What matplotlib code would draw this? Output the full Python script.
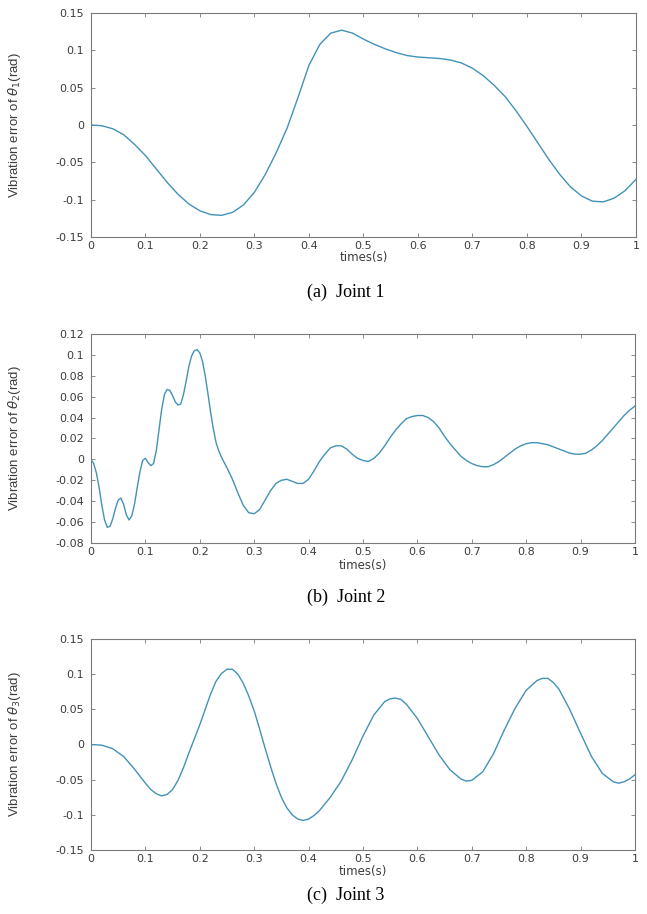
"""Vibration error of the three joints over one second."""
import matplotlib
matplotlib.use("Agg")
import matplotlib.pyplot as plt
import numpy as np
from matplotlib.ticker import FuncFormatter

# joint 1
t1 = [0.00, 0.02, 0.04, 0.06, 0.08, 0.10, 0.12, 0.14, 0.16, 0.18, 0.20, 0.22,
      0.24, 0.26, 0.28, 0.30, 0.32, 0.34, 0.36, 0.38, 0.40, 0.42, 0.44, 0.46,
      0.48, 0.50, 0.52, 0.54, 0.56, 0.58, 0.60, 0.62, 0.64, 0.66, 0.68, 0.70,
      0.72, 0.74, 0.76, 0.78, 0.80, 0.82, 0.84, 0.86, 0.88, 0.90, 0.92, 0.94,
      0.96, 0.98, 1.00]
err1 = [0.000, -0.001, -0.005, -0.013, -0.026, -0.041, -0.059, -0.077, -0.093,
        -0.106, -0.115, -0.120, -0.121, -0.117, -0.107, -0.090, -0.066, -0.037,
        -0.004, 0.037, 0.080, 0.108, 0.123, 0.127, 0.123, 0.115, 0.108, 0.102,
        0.097, 0.093, 0.091, 0.090, 0.089, 0.087, 0.083, 0.076, 0.066, 0.053,
        0.038, 0.019, -0.002, -0.024, -0.046, -0.066, -0.083, -0.095, -0.102,
        -0.103, -0.098, -0.088, -0.073]

# joint 2
t2 = [0.000, 0.005, 0.010, 0.015, 0.020, 0.025, 0.030, 0.035, 0.040, 0.045,
      0.050, 0.055, 0.060, 0.065, 0.070, 0.075, 0.080, 0.085, 0.090, 0.095,
      0.100, 0.105, 0.110, 0.115, 0.120, 0.125, 0.130, 0.135, 0.140, 0.145,
      0.150, 0.155, 0.160, 0.165, 0.170, 0.175, 0.180, 0.185, 0.190, 0.195,
      0.200, 0.205, 0.210, 0.215, 0.220, 0.225, 0.230, 0.235, 0.240, 0.245,
      0.250, 0.260, 0.270, 0.280, 0.290, 0.300, 0.310, 0.320, 0.330, 0.340,
      0.350, 0.360, 0.370, 0.380, 0.390, 0.400, 0.410, 0.420, 0.430, 0.440,
      0.450, 0.460, 0.470, 0.480, 0.490, 0.500, 0.510, 0.520, 0.530, 0.540,
      0.550, 0.560, 0.570, 0.580, 0.590, 0.600, 0.610, 0.620, 0.630, 0.640,
      0.650, 0.660, 0.670, 0.680, 0.690, 0.700, 0.710, 0.720, 0.730, 0.740,
      0.750, 0.760, 0.770, 0.780, 0.790, 0.800, 0.810, 0.820, 0.830, 0.840,
      0.850, 0.860, 0.870, 0.880, 0.890, 0.900, 0.910, 0.920, 0.930, 0.940,
      0.950, 0.960, 0.970, 0.980, 0.990, 1.000]
err2 = [0.000, -0.004, -0.013, -0.027, -0.044, -0.058, -0.065, -0.064, -0.057,
        -0.047, -0.039, -0.037, -0.043, -0.053, -0.058, -0.054, -0.043, -0.027,
        -0.012, -0.001, 0.001, -0.003, -0.006, -0.004, 0.008, 0.028, 0.048,
        0.062, 0.067, 0.066, 0.061, 0.055, 0.052, 0.053, 0.062, 0.075, 0.089,
        0.099, 0.104, 0.105, 0.102, 0.094, 0.080, 0.063, 0.045, 0.029, 0.016,
        0.008, 0.002, -0.003, -0.008, -0.019, -0.032, -0.044, -0.051, -0.052,
        -0.048, -0.039, -0.030, -0.023, -0.020, -0.019, -0.021, -0.023, -0.023,
        -0.019, -0.011, -0.002, 0.005, 0.011, 0.013, 0.013, 0.010, 0.005,
        0.001, -0.001, -0.002, 0.001, 0.006, 0.013, 0.021, 0.028, 0.034, 0.039,
        0.041, 0.042, 0.042, 0.040, 0.036, 0.030, 0.022, 0.015, 0.009, 0.003,
        -0.001, -0.004, -0.006, -0.007, -0.007, -0.005, -0.002, 0.002, 0.006,
        0.010, 0.013, 0.015, 0.016, 0.016, 0.015, 0.014, 0.012, 0.010, 0.008,
        0.006, 0.005, 0.005, 0.006, 0.009, 0.013, 0.018, 0.024, 0.030, 0.036,
        0.042, 0.047, 0.051]

# joint 3
t3 = [0.00, 0.02, 0.04, 0.06, 0.08, 0.10, 0.11, 0.12, 0.13, 0.14, 0.15, 0.16,
      0.17, 0.18, 0.19, 0.20, 0.21, 0.22, 0.23, 0.24, 0.25, 0.26, 0.27, 0.28,
      0.29, 0.30, 0.31, 0.32, 0.33, 0.34, 0.35, 0.36, 0.37, 0.38, 0.39, 0.40,
      0.41, 0.42, 0.44, 0.46, 0.48, 0.50, 0.52, 0.54, 0.55, 0.56, 0.57, 0.58,
      0.60, 0.62, 0.64, 0.66, 0.68, 0.69, 0.70, 0.72, 0.74, 0.76, 0.78, 0.80,
      0.82, 0.83, 0.84, 0.85, 0.86, 0.88, 0.90, 0.92, 0.94, 0.96, 0.97, 0.98,
      0.99, 1.00]
err3 = [0.000, -0.001, -0.006, -0.017, -0.035, -0.055, -0.064, -0.070, -0.073,
        -0.071, -0.064, -0.051, -0.033, -0.012, 0.008, 0.028, 0.050, 0.072,
        0.090, 0.101, 0.107, 0.107, 0.100, 0.087, 0.069, 0.048, 0.022, -0.005,
        -0.031, -0.055, -0.075, -0.090, -0.100, -0.106, -0.108, -0.106, -0.101,
        -0.094, -0.075, -0.052, -0.022, 0.012, 0.042, 0.061, 0.065, 0.066,
        0.064, 0.057, 0.037, 0.011, -0.015, -0.036, -0.049, -0.052, -0.051,
        -0.039, -0.013, 0.021, 0.052, 0.077, 0.091, 0.094, 0.094, 0.088, 0.079,
        0.050, 0.016, -0.017, -0.041, -0.053, -0.055, -0.053, -0.049, -0.043]

ylims = [(-0.15, 0.15), (-0.08, 0.12), (-0.15, 0.15)]
ystep = [0.05, 0.02, 0.05]
captions = ["(a)  Joint 1", "(b)  Joint 2", "(c)  Joint 3"]
ylabels = [r"Vibration error of $\theta_1$(rad)",
           r"Vibration error of $\theta_2$(rad)",
           r"Vibration error of $\theta_3$(rad)"]

LINE = "#4292b8"
TXT = "#3c3c3c"
EDGE = "#7a7a7a"

fig = plt.figure(figsize=(6.47, 9.14), dpi=100)

# axes boxes in figure fractions: left, bottom, width, height
boxes = [(0.1406, 0.7407, 0.8423, 0.2451),
         (0.1406, 0.4059, 0.8408, 0.2287),
         (0.1406, 0.0700, 0.8408, 0.2309)]
caption_y = [1 - 292 / 914, 1 - 597 / 914, 1 - 895 / 914]
xlabel_px = [258, 565, 871]

fmt = FuncFormatter(lambda v, _: "%g" % round(v, 4))

for i, (t, e) in enumerate([(t1, err1), (t2, err2), (t3, err3)]):
    ax = fig.add_axes(boxes[i])
    ax.plot(t, e, color=LINE, linewidth=1.0)
    ax.set_xlim(0, 1)
    ax.set_ylim(*ylims[i])
    ax.set_xticks(np.arange(0, 1.01, 0.1))
    lo, hi = ylims[i]
    ax.set_yticks(np.arange(lo, hi + 1e-9, ystep[i]))
    ax.xaxis.set_major_formatter(fmt)
    ax.yaxis.set_major_formatter(fmt)
    ax.tick_params(direction="in", top=True, right=True, length=3,
                   width=0.6, colors=EDGE, labelcolor=TXT, labelsize=8)
    ax.tick_params(axis="x", pad=3)
    ax.tick_params(axis="y", pad=5)
    for s in ax.spines.values():
        s.set_color(EDGE)
        s.set_linewidth(0.8)
    fig.text(0.1406 + boxes[i][2] / 2, 1 - xlabel_px[i] / 914, "times(s)",
             ha="center", va="center", fontsize=8.5, color=TXT)
    ax.set_ylabel(ylabels[i], fontsize=9.5, color=TXT,
                  family=["Liberation Sans Narrow", "Liberation Sans"])
    ax.yaxis.set_label_coords(-0.125, 0.5)
    fig.text(346 / 647, caption_y[i], captions[i], ha="center", va="center",
             fontsize=13, family=["Liberation Serif", "DejaVu Serif"])

fig.savefig("out.png", dpi=100)
